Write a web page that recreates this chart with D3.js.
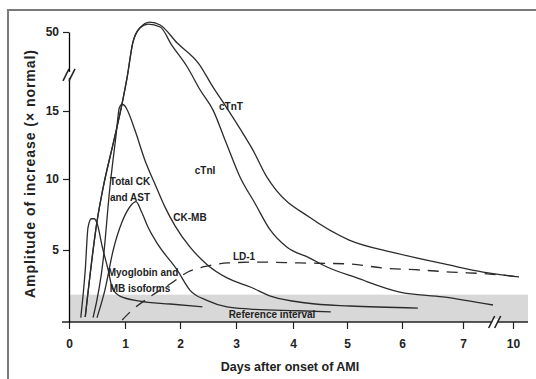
<!DOCTYPE html>
<html>
<head>
<meta charset="utf-8">
<script src="https://cdn.jsdelivr.net/npm/d3@7"></script>
<style>
  body { margin: 0; background: #fff; }
  svg text { font-family: "Liberation Sans", Arial, sans-serif; fill: #222; }
</style>
</head>
<body>
<svg id="chart" width="536" height="379"></svg>
<script>
// days after onset of AMI / amplitude of increase (x normal)
var myoDays = [0.21, 0.29, 0.34, 0.40, 0.45, 0.50, 0.59, 0.70, 0.77, 0.91, 1.27, 1.82, 2.40];
var myoVals = [0.3, 3.6, 6.6, 7.2, 7.2, 6.9, 5.3, 3.6, 2.4, 1.8, 1.45, 1.25, 1.05];

var ckDays = [0.50, 0.64, 0.79, 0.95, 1.10, 1.20, 1.30, 1.42, 1.58, 1.95, 2.18, 2.48, 2.84, 3.25, 4.10, 4.70];
var ckVals = [0.3, 2.2, 5.0, 7.0, 8.1, 8.4, 7.7, 6.6, 5.5, 3.6, 2.2, 1.5, 1.05, 0.9, 0.78, 0.7];

var ckmbDays = [0.43, 0.61, 0.73, 0.84, 0.90, 0.95, 1.00, 1.05, 1.18, 1.36, 1.55, 1.73, 1.91, 2.18, 2.48, 2.84, 3.25, 3.65, 4.25, 5.05, 6.26];
var ckmbVals = [0.3, 4.3, 9.4, 13.2, 16.5, 18, 17.2, 15, 13.6, 11.4, 9.6, 8.0, 6.7, 5.2, 4.0, 3.06, 2.43, 1.74, 1.32, 1.11, 0.97];

var tntDays = [0.29, 0.50, 0.61, 0.80, 0.95, 1.04, 1.14, 1.27, 1.45, 1.64, 1.95, 2.34, 2.59, 2.80, 3.07, 3.30, 3.54, 3.70, 4.30, 5.04, 5.89, 6.77, 8.20, 10.36];
var tntVals = [0.35, 7.0, 9.4, 12.8, 18.5, 30.1, 45.1, 51.8, 54.4, 53.1, 45.1, 35.8, 25.6, 17.7, 13.7, 12.1, 10.15, 9.23, 7.32, 5.70, 4.79, 3.96, 3.47, 3.13];

var tniDays = [0.29, 0.50, 0.61, 0.80, 0.95, 1.04, 1.14, 1.27, 1.42, 1.64, 1.85, 2.13, 2.36, 2.59, 2.82, 3.07, 3.33, 3.60, 3.89, 4.31, 4.63, 5.18, 5.96, 6.67, 8.80];
var tniVals = [0.35, 7.0, 9.4, 12.8, 18.5, 30.1, 45.1, 51.8, 53.5, 52.2, 44.2, 34.5, 24.3, 15.4, 12.7, 10.15, 8.31, 6.41, 5.21, 4.44, 3.82, 3.06, 2.08, 1.74, 1.18];

var ldDays = [0.95, 1.09, 1.45, 1.82, 2.14, 2.41, 2.86, 3.42, 4.13, 5.05, 5.65, 6.30, 6.80, 8.62, 10.48];
var ldVals = [0.14, 0.69, 1.74, 2.64, 3.47, 3.82, 4.10, 4.16, 4.10, 4.03, 3.75, 3.61, 3.47, 3.33, 3.13];

var refUpper = 1.9;
var xTicks = [0, 1, 2, 3, 4, 5, 6, 7, 10];
var yTicks = [5, 10, 15, 50];
var xBreak = 8.9, yBreak = 31;

var svg = d3.select('#chart');

// broken axes: piecewise scales
var x = d3.scaleLinear()
  .domain([0, 1, 2, 3, 4, 5, 6, 7, 10, 10.9])
  .range([69, 125, 180, 236, 293, 347, 402, 463, 513, 528]);
var y = d3.scaleLinear()
  .domain([0, 5, 10, 15, 50])
  .range([322, 250, 179, 111, 32]);

// frame (only top and left edges show)
svg.append('path')
  .attr('d', 'M8,379V10H536')
  .attr('fill', 'none')
  .attr('stroke', '#7a7a7a')
  .attr('stroke-width', 2);

// reference interval band
svg.append('rect')
  .attr('x', x(0))
  .attr('y', y(refUpper))
  .attr('width', x(10.9) - x(0))
  .attr('height', y(0) - y(refUpper))
  .attr('fill', '#d8d8d8');

var line = d3.line()
  .x(function (d) { return x(d[0]); })
  .y(function (d) { return y(d[1]); })
  .curve(d3.curveMonotoneX);

function pairs(ds, vs) { return ds.map(function (d, i) { return [d, vs[i]]; }); }

var curves = [
  { pts: pairs(myoDays, myoVals) },
  { pts: pairs(ckDays, ckVals) },
  { pts: pairs(ckmbDays, ckmbVals) },
  { pts: pairs(tntDays, tntVals) },
  { pts: pairs(tniDays, tniVals) },
  { pts: pairs(ldDays, ldVals), dash: '11,8' }
];

svg.append('g').selectAll('path')
  .data(curves)
  .enter()
  .append('path')
  .attr('d', function (d) { return line(d.pts); })
  .attr('fill', 'none')
  .attr('stroke', '#2b2b2b')
  .attr('stroke-width', 1.3)
  .attr('stroke-dasharray', function (d) { return d.dash || null; });

// axes
var xAxis = svg.append('g')
  .attr('transform', 'translate(0,' + y(0) + ')')
  .call(d3.axisBottom(x).tickValues(xTicks).tickFormat(d3.format('d')).tickSize(7).tickPadding(10).tickSizeOuter(0));
xAxis.select('.domain').remove();
xAxis.append('line')
  .attr('x1', x(0) - 7).attr('x2', x(10.9))
  .attr('stroke', '#222').attr('stroke-width', 1.5);

var yAxis = svg.append('g')
  .attr('transform', 'translate(' + x(0) + ',0)')
  .call(d3.axisLeft(y).tickValues(yTicks).tickSize(6).tickPadding(4).tickSizeOuter(0));
yAxis.select('.domain').attr('stroke-width', 1.3);

svg.selectAll('.tick line').attr('stroke', '#222').attr('stroke-width', 1.2);
svg.selectAll('.tick text')
  .style('font-size', '12px')
  .style('font-weight', 'bold')
  .attr('fill', '#222');

// break marks: white gap in the axis plus two slashes
function breakMark(cx, cy) {
  var g = svg.append('g').attr('transform', 'translate(' + cx + ',' + cy + ')');
  g.append('rect').attr('x', -3).attr('y', -3).attr('width', 6).attr('height', 6).attr('fill', '#fff');
  [-3, 3].forEach(function (o) {
    g.append('line')
      .attr('x1', o - 3).attr('y1', 6)
      .attr('x2', o + 3).attr('y2', -6)
      .attr('stroke', '#222').attr('stroke-width', 1.6);
  });
}
breakMark(x(0), y(yBreak));
breakMark(x(xBreak), y(0));

// curve labels
var labelStyle = function (sel) {
  sel.attr('text-anchor', 'middle')
    .style('font-size', '10px')
    .style('font-weight', 'bold');
};
[
  ['Total CK', 130, 185],
  ['and AST', 130, 201],
  ['CK-MB', 190, 221],
  ['Myoglobin and', 143, 276],
  ['MB isoforms', 140, 292],
  ['cTnT', 231, 110],
  ['cTnI', 205, 174],
  ['LD-1', 244, 260],
  ['Reference interval', 272, 318]
].forEach(function (t) {
  svg.append('text').attr('x', t[1]).attr('y', t[2]).text(t[0]).call(labelStyle);
});

// axis titles
svg.append('text')
  .attr('x', 290).attr('y', 371)
  .attr('text-anchor', 'middle')
  .style('font-size', '12.5px')
  .style('font-weight', 'bold')
  .text('Days after onset of AMI');

svg.append('text')
  .attr('transform', 'translate(35,174)rotate(-90)')
  .attr('text-anchor', 'middle')
  .attr('textLength', 248)
  .style('font-size', '14px')
  .style('font-weight', 'bold')
  .text('Amplitude of increase (× normal)');
</script>
</body>
</html>
